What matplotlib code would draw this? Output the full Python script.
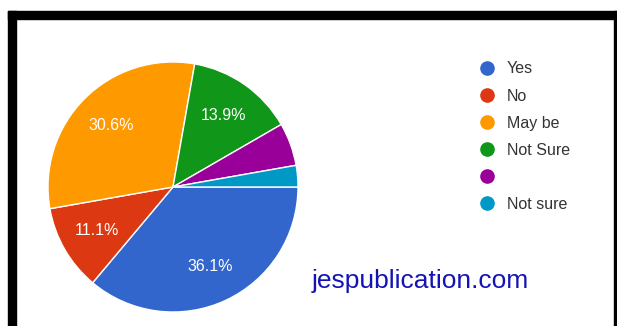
import matplotlib
matplotlib.use("Agg")
import matplotlib.pyplot as plt
from matplotlib.lines import Line2D
from matplotlib.patches import Rectangle

plt.rcParams['font.family'] = ['Liberation Sans', 'DejaVu Sans']

labels = ['Yes', 'No', 'May be', 'Not Sure', '', 'Not sure']
counts = [13, 4, 11, 5, 2, 1]
colors = ['#3366cc', '#dc3912', '#ff9900', '#109618', '#990099', '#0099c6']

W, H = 617, 326
fig = plt.figure(figsize=(W / 100, H / 100), dpi=100)

# black frame around the screenshot
fig.patches.append(Rectangle((8 / W, 1 - 19 / H), 1, 8 / H, transform=fig.transFigure, color='black'))
fig.patches.append(Rectangle((8 / W, 0), 8 / W, 1 - 11 / H, transform=fig.transFigure, color='black'))
fig.patches.append(Rectangle((614 / W, 0), 3 / W, 1 - 11 / H, transform=fig.transFigure, color='black'))

# pie: centre (173, 187) px, radius 125 px
cx, cy, r = 173, 187, 125
ax = fig.add_axes([(cx - r) / W, (H - cy - r) / H, 2 * r / W, 2 * r / H])

def fmt(p):
    return f'{p:.1f}%' if p > 8 else ''

wedges, texts, autotexts = ax.pie(counts, colors=colors, startangle=0, counterclock=False,
                                  autopct=fmt, pctdistance=0.7,
                                  wedgeprops=dict(edgecolor='white', linewidth=1),
                                  textprops=dict(color='white', fontsize=11.5))
ax.set_xlim(-1, 1)
ax.set_ylim(-1, 1)
ax.axis('off')

handles = [Line2D([], [], marker='o', linestyle='', markersize=9.5,
                  markerfacecolor=c, markeredgecolor=c) for c in colors]
fig.legend(handles, labels, loc='upper left', bbox_to_anchor=(473 / W, 1 - 55 / H),
           frameon=False, fontsize=11.5, handlelength=1.0, handletextpad=0.7,
           labelspacing=0.76, labelcolor='#333333', borderaxespad=0)

fig.text(312 / W, 1 - 288 / H, 'jespublication.com', color='#1414b4', fontsize=19,
         ha='left', va='baseline')

fig.savefig('out.png', dpi=100)
